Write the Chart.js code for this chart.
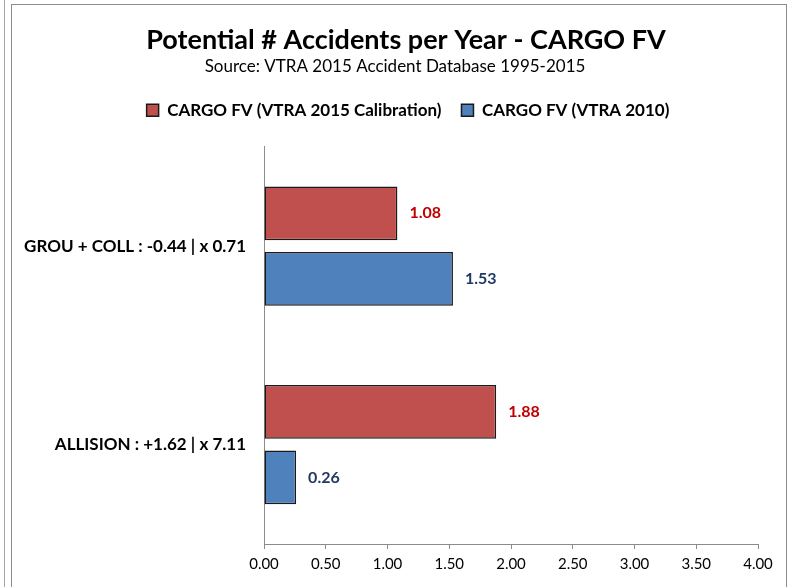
<!DOCTYPE html>
<html>
<head>
<meta charset="utf-8">
<script src="https://cdn.jsdelivr.net/npm/chart.js@4.4.1/dist/chart.umd.min.js"></script>
<style>
  html, body { margin: 0; padding: 0; background: #fff; }
  body { width: 788px; height: 587px; position: relative; overflow: hidden; }
  .edge { position: absolute; left: 4px; top: 0; width: 1px; height: 587px; background: #a6a6a6; }
  .frame { position: absolute; left: 11px; top: 4px; width: 774px; height: 600px; border: 1px solid #8c8c8c; }
  .frame canvas { position: absolute; left: 0; top: 0; }
</style>
</head>
<body>
<div class="edge"></div>
<div class="frame"><canvas id="accChart" width="774" height="583"></canvas></div>
<script>
const categories = ["GROU + COLL : -0.44 | x 0.71", "ALLISION : +1.62 | x 7.11"];
const calib2015 = [1.08, 1.88];
const vtra2010 = [1.53, 0.26];
const xTicks = [0, 0.5, 1, 1.5, 2, 2.5, 3, 3.5, 4];
const seriesNames = ["CARGO FV (VTRA 2015 Calibration)", "CARGO FV (VTRA 2010)"];
const titleText = "Potential # Accidents per Year - CARGO FV";
const subtitleText = "Source: VTRA 2015 Accident Database 1995-2015";

const FONT = "Lato, 'Open Sans', sans-serif";

// data values printed just past the end of each bar
const valueLabels = {
    id: "valueLabels",
    afterDatasetsDraw(chart) {
        const ctx = chart.ctx;
        ctx.save();
        ctx.font = "bold 16px " + FONT;
        ctx.textBaseline = "middle";
        ctx.textAlign = "left";
        chart.data.datasets.forEach((ds, i) => {
            chart.getDatasetMeta(i).data.forEach((bar, j) => {
                ctx.fillStyle = ds.labelColor;
                ctx.fillText(ds.data[j].toFixed(2), bar.x + 12, bar.y);
            });
        });
        ctx.restore();
    }
};

// extra room under the legend, and nudge the header blocks right a bit
const headerTweaks = {
    id: "headerTweaks",
    beforeInit(chart) {
        const fit = chart.legend.fit;
        chart.legend.fit = function () {
            fit.bind(chart.legend)();
            this.height += 18;
        };
    },
    afterLayout(chart) {
        const shift = (box, dx) => { box.left += dx; box.right += dx; };
        chart.boxes.forEach(box => {
            if (box === chart.legend) shift(box, 23);
            else if (box === chart.titleBlock) shift(box, 21);
            else if (box.options && box.options.text === subtitleText) shift(box, 10);
        });
    }
};

const ctx = document.getElementById("accChart").getContext("2d");
new Chart(ctx, {
    type: "bar",
    data: {
        labels: categories,
        datasets: [{
            label: seriesNames[0],
            data: calib2015,
            backgroundColor: "#c0504d",
            borderColor: "#1a1a1a",
            borderWidth: 1.5,
            borderSkipped: false,
            labelColor: "#c00000",
            categoryPercentage: 0.66,
            barPercentage: 0.82
        }, {
            label: seriesNames[1],
            data: vtra2010,
            backgroundColor: "#4f81bd",
            borderColor: "#1a1a1a",
            borderWidth: 1.5,
            borderSkipped: false,
            labelColor: "#1f3864",
            categoryPercentage: 0.66,
            barPercentage: 0.82
        }]
    },
    options: {
        indexAxis: "y",
        responsive: false,
        animation: false,
        layout: { padding: { left: 0, right: 28, top: 8, bottom: 9 } },
        plugins: {
            title: {
                display: true,
                text: titleText,
                color: "#000",
                font: { family: FONT, size: 27, weight: "bold" },
                padding: { top: 11, bottom: 0 }
            },
            subtitle: {
                display: true,
                text: subtitleText,
                color: "#000",
                font: { family: FONT, size: 17 },
                padding: { top: 0, bottom: 5 }
            },
            legend: {
                position: "top",
                labels: {
                    color: "#000",
                    font: { family: FONT, size: 17, weight: "bold" },
                    boxWidth: 12,
                    boxHeight: 12,
                    padding: 20
                }
            },
            tooltip: { enabled: false }
        },
        scales: {
            x: {
                min: 0,
                max: 4,
                afterBuildTicks(scale) {
                    scale.ticks = xTicks.map(v => ({ value: v }));
                },
                ticks: {
                    color: "#000",
                    font: { family: FONT, size: 15 },
                    callback: v => Number(v).toFixed(2),
                    maxRotation: 0,
                    padding: 6
                },
                grid: {
                    drawOnChartArea: false,
                    drawTicks: true,
                    tickLength: 5,
                    color: "#8c8c8c"
                },
                border: { display: true, color: "#8c8c8c" }
            },
            y: {
                afterFit(scale) { scale.width = 252; },
                ticks: {
                    color: "#000",
                    font: { family: FONT, size: 17, weight: "bold" },
                    padding: 10
                },
                grid: { display: false },
                border: { display: true, color: "#8c8c8c" }
            }
        }
    },
    plugins: [valueLabels, headerTweaks]
});
</script>
</body>
</html>
